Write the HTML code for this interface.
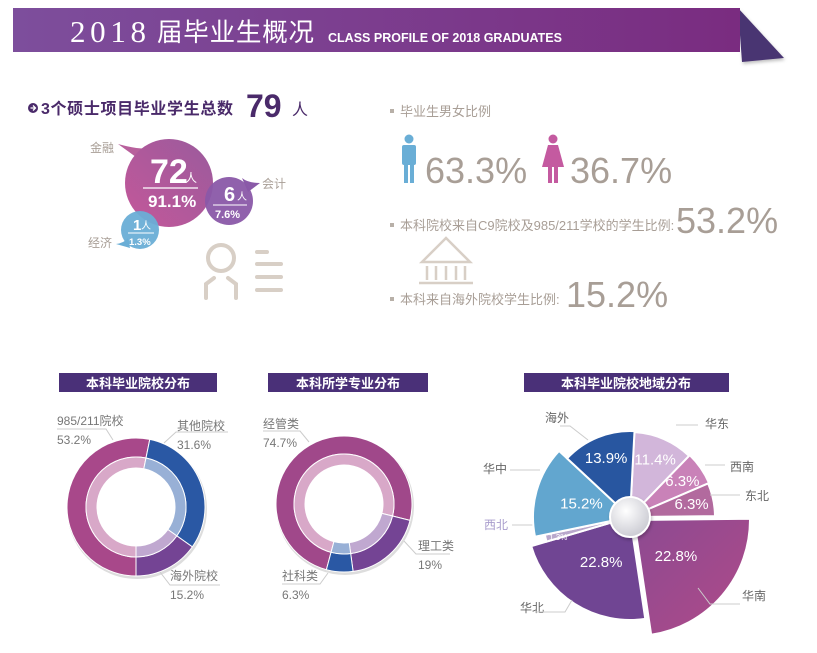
<!DOCTYPE html>
<html><head><meta charset="utf-8">
<style>
html,body{margin:0;padding:0;background:#fff;}
svg{display:block;font-family:"Liberation Sans","Noto Sans CJK SC",sans-serif;}
</style></head>
<body>
<svg id="root" width="817" height="653" viewBox="0 0 817 653" xmlns="http://www.w3.org/2000/svg">
<defs>
<linearGradient id="hdr" x1="0" x2="1"><stop offset="0" stop-color="#7d4e9c"/><stop offset="1" stop-color="#7a2c80"/></linearGradient>
<linearGradient id="big" x1="0" y1="1" x2="1" y2="0"><stop offset="0" stop-color="#c4589a"/><stop offset="1" stop-color="#9a5a9c"/></linearGradient>
<linearGradient id="hs" x1="0" y1="0" x2="1" y2="1"><stop offset="0" stop-color="#8c4a92"/><stop offset="1" stop-color="#b04a88"/></linearGradient>
<radialGradient id="hub" cx="0.4" cy="0.35" r="0.7"><stop offset="0" stop-color="#ffffff"/><stop offset="1" stop-color="#c8c8d0"/></radialGradient>
<filter id="sh" x="-20%" y="-20%" width="140%" height="140%"><feDropShadow dx="1" dy="2" stdDeviation="1.5" flood-color="#000" flood-opacity="0.25"/></filter>
</defs>

<g>
<polygon points="738,8 784,58 742,62" fill="#4a3572" filter="url(#sh)"/>
<rect x="13" y="8" width="727" height="44" fill="url(#hdr)"/>
<text x="70" y="42" font-family="Liberation Serif,serif" font-size="31" fill="#fff" textLength="76">2018</text>
<text x="157" y="41" font-size="25.5" fill="#fff" textLength="157">届毕业生概况</text>
<text x="328" y="42" font-size="12.5" font-weight="bold" fill="#fff" textLength="234" lengthAdjust="spacingAndGlyphs">CLASS PROFILE OF 2018 GRADUATES</text>
</g>

<g>
<circle cx="33" cy="108" r="5" fill="#4a2a6a"/>
<path d="M30.5 108h4M33 105.5l2.5 2.5-2.5 2.5" stroke="#fff" stroke-width="1.3" fill="none"/>
<text x="41" y="114" font-size="16" fill="#4a2a6a" font-weight="bold" textLength="192">3个硕士项目毕业学生总数</text>
<text x="246" y="117" font-size="32" fill="#4a2a6a" font-weight="bold">79</text>
<text x="292" y="115" font-size="16" fill="#4a2a6a">人</text>
</g>
<g>
<path d="M118 144 Q140 150 150 148 L140 160 Z" fill="#b8609c"/>
<circle cx="169" cy="183" r="44" fill="url(#big)"/>
<text x="90" y="152" font-size="12" fill="#a89e96">金融</text>
<text x="150" y="183" font-size="34" font-weight="bold" fill="#fff">72</text>
<text x="185" y="182" font-size="12" fill="#fff">人</text>
<line x1="143" y1="188" x2="198" y2="188" stroke="#fff" stroke-width="1.2"/>
<text x="148" y="207" font-size="17" font-weight="bold" fill="#fff">91.1%</text>
</g>
<g>
<path d="M260 183 Q248 183 242 178 L248 192 Z" fill="#8a5aa8"/>
<circle cx="229" cy="201" r="24" fill="#8a58a8" opacity="0.95"/>
<text x="262" y="188" font-size="12" fill="#a89e96">会计</text>
<text x="224" y="201" font-size="20" font-weight="bold" fill="#fff">6</text>
<text x="237" y="200" font-size="10" fill="#fff">人</text>
<line x1="213" y1="205" x2="247" y2="205" stroke="#fff"/>
<text x="215" y="218" font-size="11" font-weight="bold" fill="#fff">7.6%</text>
</g>
<g>
<path d="M116 244 Q124 243 128 238 L130 248 Z" fill="#6aaed6"/>
<circle cx="140" cy="230" r="19" fill="#6aaed6" opacity="0.95"/>
<text x="88" y="247" font-size="12" fill="#a89e96">经济</text>
<text x="133" y="230" font-size="15" font-weight="bold" fill="#fff">1</text>
<text x="141" y="229" font-size="10" fill="#fff">人</text>
<line x1="128" y1="233" x2="154" y2="233" stroke="#fff"/>
<text x="129" y="245" font-size="9.5" font-weight="bold" fill="#fff">1.3%</text>
</g>
<g stroke="#d8cfc6" stroke-width="4" fill="none" stroke-linecap="round">
<circle cx="221" cy="258" r="13"/>
<path d="M206 298 V284 L214 278 M236 298 V284 L228 278"/>
<path d="M257 252h10M257 264h24M257 277h24M257 290h24"/>
</g>

<g>
<rect x="390" y="109" width="4" height="4" fill="#b8b0a8"/>
<text x="400" y="116" font-size="13" fill="#a89e96">毕业生男女比例</text>
<g fill="#6aaed6">
<circle cx="409" cy="139" r="4.5"/>
<rect x="402" y="145" width="14" height="20" rx="2"/>
<rect x="404" y="160" width="4" height="23"/><rect x="410" y="160" width="4" height="23"/>
</g>
<text x="425" y="183" font-size="36" fill="#a89e96">63.3%</text>
<g fill="#c45aa0">
<circle cx="553" cy="139" r="4.5"/>
<polygon points="548,145 558,145 564,167 542,167"/>
<rect x="548" y="165" width="4" height="18"/><rect x="554" y="165" width="4" height="18"/>
</g>
<text x="570" y="183" font-size="36" fill="#a89e96">36.7%</text>
</g>
<g>
<rect x="390" y="223" width="4" height="4" fill="#b8b0a8"/>
<text x="400" y="230" font-size="13" fill="#a89e96">本科院校来自C9院校及985/211学校的学生比例:</text>
<text x="676" y="233" font-size="36" fill="#a89e96">53.2%</text>
</g>
<g stroke="#d8cfc6" stroke-width="2.5" fill="none">
<path d="M422 262 L446 238 L470 262 Z"/>
<path d="M427 266v14M436 266v14M446 266v14M456 266v14M465 266v14"/>
<path d="M419 283h54"/>
</g>
<g>
<rect x="390" y="297" width="4" height="4" fill="#b8b0a8"/>
<text x="400" y="304" font-size="13" fill="#a89e96">本科来自海外院校学生比例:</text>
<text x="566" y="307" font-size="36" fill="#a89e96">15.2%</text>
</g>

<g><rect x="59" y="373" width="158" height="19" fill="#4a3078"/><text x="138" y="388" font-size="13" font-weight="bold" fill="#fff" text-anchor="middle">本科毕业院校分布</text></g>
<g><rect x="268" y="373" width="160" height="19" fill="#4a3078"/><text x="348" y="388" font-size="13" font-weight="bold" fill="#fff" text-anchor="middle">本科所学专业分布</text></g>
<g><rect x="524" y="373" width="205" height="19" fill="#4a3078"/><text x="626" y="388" font-size="13" font-weight="bold" fill="#fff" text-anchor="middle">本科毕业院校地域分布</text></g>

<g id="d1"></g>
<g id="d2"></g>
<g id="pie"></g>
</svg>
<script>
var schoolCats = ["985/211院校","其他院校","海外院校"];
var schoolVals = [53.2,31.6,15.2];
var majorCats = ["经管类","理工类","社科类"];
var majorVals = [74.7,19,6.3];
var regionCats = ["华东","西南","东北","华南","华北","西北","华中","海外"];
var regionVals = [11.4,6.3,6.3,22.8,22.8,1.3,15.2,13.9];

var NS="http://www.w3.org/2000/svg";
function mk(tag,attrs,parent){var e=document.createElementNS(NS,tag);for(var k in attrs)e.setAttribute(k,attrs[k]);parent.appendChild(e);return e;}
function pt(cx,cy,r,a){var t=(a-90)*Math.PI/180;return [cx+r*Math.cos(t),cy+r*Math.sin(t)];}
function arc(cx,cy,r0,r1,a0,a1){
  var p0=pt(cx,cy,r1,a0),p1=pt(cx,cy,r1,a1),p2=pt(cx,cy,r0,a1),p3=pt(cx,cy,r0,a0);var lg=(a1-a0)>180?1:0;
  if(r0<=0)return "M"+cx+" "+cy+"L"+p0+"A"+r1+" "+r1+" 0 "+lg+" 1 "+p1+"Z";
  return "M"+p0+"A"+r1+" "+r1+" 0 "+lg+" 1 "+p1+"L"+p2+"A"+r0+" "+r0+" 0 "+lg+" 0 "+p3+"Z";
}
function angleScale(vals){var tot=vals.reduce(function(a,b){return a+b},0);return function(v){return v/tot*360;};}

function donut(g,vals,start,cx,cy,outer,cols,light){
  var sc=angleScale(vals),a=start;
  var s=mk('circle',{cx:cx+1,cy:cy+2,r:outer-9,fill:'none',stroke:'#ddd','stroke-width':20},g);
  
  
  for(var i=0;i<vals.length;i++){
    var b=a+sc(vals[i]);
    var p=mk('path',{d:arc(cx,cy,50,outer,a,b),fill:cols[i],stroke:'#fff','stroke-width':1},g);
    
    
    var q=mk('path',{d:arc(cx,cy,39,50,a,b),fill:light[i],stroke:'#fff','stroke-width':1},g);
    
    
    a=b;
  }
}
var d1=document.getElementById('d1');
donut(d1,schoolVals,180,136,507,69,["#a8488a","#2a58a4","#744494"],["#d8a8c8","#98b0d6","#c0a8d0"]);
var d2=document.getElementById('d2');
donut(d2,majorVals,195,344,504,68,["#a0488a","#744494","#2a58a4"],["#d8a8c8","#c0a8d0","#98b0d6"]);

function label(g,x,y,t1,t2,anchor,col){
  var e=mk('text',{x:x,y:y,'font-size':12,fill:col||'#777','text-anchor':anchor||'start'},g);e.textContent=t1;
  
  
  if(t2!==undefined){var f=mk('text',{x:x,y:y+19,'font-size':12,fill:col||'#777','text-anchor':anchor||'start'},g);f.textContent=t2;
  
  }
}
function line(g,pts){var l=mk('polyline',{points:pts,fill:'none',stroke:'#ccc','stroke-width':1},g);
  
  }
label(d1,57,425,schoolCats[0],schoolVals[0]+"%");line(d1,"57,429 106,429 113,440");
label(d1,177,430,schoolCats[1],schoolVals[1]+"%");line(d1,"228,432 176,432 164,443");
label(d1,170,580,schoolCats[2],schoolVals[2]+"%");line(d1,"220,585 170,585 160,572");
label(d2,263,428,majorCats[0],majorVals[0]+"%");line(d2,"263,431 300,431 309,442");
label(d2,418,550,majorCats[1],majorVals[1]+"%");line(d2,"450,554 416,554 404,541");
label(d2,282,580,majorCats[2],majorVals[2]+"%");line(d2,"282,584 320,584 328,573");

var pieRadii=[85,86,85,116,103,87,97,86];
var pieCols=["#d2b6da","#c982b8","#b26a9e","url(#hs)","#704593","#b9a8cc","#62a6cf","#2856a0"];
var pg=document.getElementById('pie');
var pcx=630,pcy=517,sc=angleScale(regionVals),a=3;
var labelPos=[[705,428,'start'],[730,471,'start'],[745,500,'start'],[742,600,'start'],[520,612,'start'],[508,529,'end'],[507,473,'end'],[545,422,'start']];
var leaders=["676,425 698,425","705,465 725,465","710,495 740,495","740,604 710,604 698,588","535,612 565,612 572,600","512,525 538,525","510,470 540,470","560,426 570,426 588,440"];
for(var i=0;i<regionVals.length;i++){
  var b=a+sc(regionVals[i]);
  var off=(i===3)?[4,3]:[0,0];
  var p=mk('path',{d:arc(pcx+off[0],pcy+off[1],0,pieRadii[i],a,b),fill:pieCols[i],stroke:'#fff','stroke-width':2},pg);
  
  
  var mid=(a+b)/2;
  var rr=regionVals[i]<2?74:(pieRadii[i]<90?pieRadii[i]*0.74:pieRadii[i]*0.52);
  var c=pt(pcx,pcy,rr,mid);
  var fs=regionVals[i]<2?8:15;
  var t=mk('text',{x:c[0],y:c[1]+5,'font-size':fs,fill:'#fff','text-anchor':'middle'},pg);
  t.textContent=regionVals[i]+"%";
  
  
  label(pg,labelPos[i][0],labelPos[i][1],regionCats[i],undefined,labelPos[i][2],i===5?'#a89ccc':'#666');
  line(pg,leaders[i]);
  a=b;
}
var hub=mk('circle',{cx:pcx,cy:pcy,r:20,fill:'url(#hub)',stroke:'#fff','stroke-width':2,filter:'url(#sh)'},pg);


</script>
</body></html>
